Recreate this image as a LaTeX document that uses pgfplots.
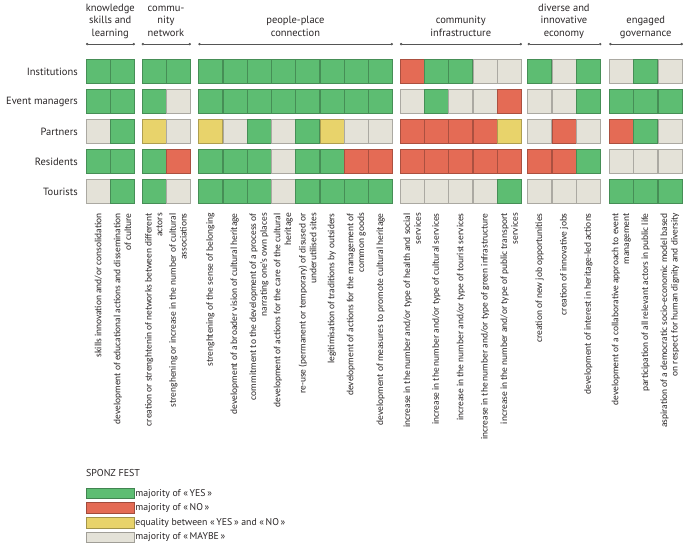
\documentclass[border=0pt]{standalone}
\usepackage{pgfplots}
\pgfplotsset{compat=1.18}
\usepackage{pgfplotstable}
\usepackage{fontspec}
\setmainfont{PT Sans}
\newfontfamily\lblfont{Carlito}
\usetikzlibrary{arrows.meta}
\definecolor{cg}{HTML}{5DBD72}
\definecolor{cr}{HTML}{E46B55}
\definecolor{cy}{HTML}{E8D36B}
\definecolor{cm}{HTML}{E4E2D8}
\definecolor{txt}{HTML}{2A2627}
\definecolor{brk}{HTML}{555555}

% x = column centre (px), y = row centre (px, downwards), c = answer
% G = majority YES, R = majority NO, Y = equality, M = majority MAYBE
\pgfplotstableread{
x y c
98.2 71.5 G
122.5 71.5 G
153.8 71.5 G
178.1 71.5 G
210.5 71.5 G
234.8 71.5 G
259.1 71.5 G
283.4 71.5 G
307.7 71.5 G
332.0 71.5 G
356.3 71.5 G
380.6 71.5 G
412.2 71.5 R
436.5 71.5 G
460.8 71.5 G
485.1 71.5 M
509.4 71.5 M
539.8 71.5 G
564.1 71.5 M
588.4 71.5 G
621.4 71.5 M
645.7 71.5 G
670.0 71.5 M
98.2 101.5 G
122.5 101.5 G
153.8 101.5 G
178.1 101.5 M
210.5 101.5 G
234.8 101.5 G
259.1 101.5 G
283.4 101.5 G
307.7 101.5 G
332.0 101.5 G
356.3 101.5 G
380.6 101.5 G
412.2 101.5 M
436.5 101.5 G
460.8 101.5 M
485.1 101.5 M
509.4 101.5 R
539.8 101.5 M
564.1 101.5 M
588.4 101.5 G
621.4 101.5 G
645.7 101.5 G
670.0 101.5 G
98.2 131.5 M
122.5 131.5 G
153.8 131.5 Y
178.1 131.5 M
210.5 131.5 Y
234.8 131.5 M
259.1 131.5 G
283.4 131.5 M
307.7 131.5 G
332.0 131.5 Y
356.3 131.5 M
380.6 131.5 M
412.2 131.5 R
436.5 131.5 R
460.8 131.5 R
485.1 131.5 R
509.4 131.5 Y
539.8 131.5 M
564.1 131.5 R
588.4 131.5 M
621.4 131.5 R
645.7 131.5 G
670.0 131.5 M
98.2 161.5 G
122.5 161.5 G
153.8 161.5 G
178.1 161.5 R
210.5 161.5 G
234.8 161.5 G
259.1 161.5 G
283.4 161.5 M
307.7 161.5 G
332.0 161.5 G
356.3 161.5 R
380.6 161.5 R
412.2 161.5 R
436.5 161.5 R
460.8 161.5 R
485.1 161.5 R
509.4 161.5 R
539.8 161.5 R
564.1 161.5 R
588.4 161.5 G
621.4 161.5 M
645.7 161.5 M
670.0 161.5 M
98.2 191.5 M
122.5 191.5 G
153.8 191.5 G
178.1 191.5 M
210.5 191.5 G
234.8 191.5 G
259.1 191.5 G
283.4 191.5 M
307.7 191.5 G
332.0 191.5 G
356.3 191.5 G
380.6 191.5 G
412.2 191.5 M
436.5 191.5 M
460.8 191.5 M
485.1 191.5 M
509.4 191.5 G
539.8 191.5 M
564.1 191.5 M
588.4 191.5 M
621.4 191.5 G
645.7 191.5 G
670.0 191.5 G
}\cells

\begin{document}
\begin{tikzpicture}
\begin{axis}[
  x=1pt, y=1pt,
  xmin=83, xmax=685, ymin=-212, ymax=0,
  clip=false,
  axis line style={draw=none},
  major tick length=0pt,
  xtick={98.2,122.5,153.8,178.1,210.5,234.8,259.1,283.4,307.7,332.0,356.3,380.6,412.2,436.5,460.8,485.1,509.4,539.8,564.1,588.4,621.4,645.7,670.0},
  xticklabels={
    {skills innovation and/or consolidation},
    {development of educational actions and dissemination\\of culture},
    {creation or strenghtenin of networks between different\\actors},
    {strenghening or increase in the number of cultural\\associations},
    {strenghtening of the sense of belonging},
    {development of a broader vision of cultural heritage},
    {commitment to the development of a process of\\narrating one’s own places},
    {development of actions for the care of the cultural\\heritage},
    {re-use (permanent or temporary) of disused or\\underutilised sites},
    {legitimisation of traditions by outsiders},
    {development of actions for the management of\\common goods},
    {development of measures to promote cultural heritage},
    {increase in the number and/or type of health and social\\services},
    {increase in the number and/or type of cultural services},
    {increase in the number and/or type of tourist services},
    {increase in the number and/or type of green infrastructure},
    {increase in the number and/or type of public transport\\services},
    {creation of new job opportunities},
    {creation of innovative jobs},
    {development of interest in heritage-led actions},
    {development of a collaborative approach to event\\management},
    {participation of all relevant actors in public life},
    {aspiration of a democratic socio-economic model based\\on respect for human dignity and diversity}},
  xticklabel style={rotate=90, anchor=east, align=right, inner sep=1pt,
    text=txt, font=\lblfont\fontsize{9.5}{10.7}\selectfont},
  ytick={-71.5,-101.5,-131.5,-161.5,-191.5},
  yticklabels={Institutions,Event managers,Partners,Residents,Tourists},
  yticklabel style={anchor=east, inner sep=0pt, xshift=-5pt, text=txt,
    font=\fontsize{10.5}{12.5}\selectfont},
  legend image code/.code={\draw[#1, line width=0.6pt] (0pt,-5.3pt) rectangle (48pt,5.3pt);},
  legend style={at={(axis cs:86,-487.5)}, anchor=north west, draw=none, fill=none,
    inner sep=0pt, row sep=3.4pt, text=txt,
    font=\fontsize{9.8}{11}\selectfont,
    nodes={inner sep=0.6pt, anchor=west},
    /tikz/every even column/.append style={column sep=5pt}},
]
\path (axis cs:0,0) rectangle (axis cs:685,-545);

\addplot[scatter, only marks, forget plot,
  scatter src=explicit symbolic,
  mark size=12pt,
  scatter/classes={
    G={mark=square*, fill=cg, draw=cg!75!black, line width=0.5pt},
    R={mark=square*, fill=cr, draw=cr!75!black, line width=0.5pt},
    Y={mark=square*, fill=cy, draw=cy!75!black, line width=0.5pt},
    M={mark=square*, fill=cm, draw=cm!75!black, line width=0.5pt}}]
  table[x=x, y expr=-\thisrow{y}, meta=c] {\cells};

\addlegendimage{fill=cg, draw=cg!70!black}
\addlegendentry{majority of «\,YES\,»}
\addlegendimage{fill=cr, draw=cr!70!black}
\addlegendentry{majority of «\,NO\,»}
\addlegendimage{fill=cy, draw=cy!70!black}
\addlegendentry{equality between «\,YES\,» and «\,NO\,»}
\addlegendimage{fill=cm, draw=cm!70!black}
\addlegendentry{majority of «\,MAYBE\,»}

% group headers
\begin{scope}[every node/.style={align=center, anchor=south, inner sep=0pt, text=txt,
    font=\fontsize{10.5}{12.5}\selectfont}]
\node at (axis cs:110.3,-40) {knowledge\\skills and\\learning\strut};
\node at (axis cs:166.0,-40) {commu-\\nity\\network\strut};
\node at (axis cs:295.5,-40) {people-place\\connection\strut};
\node at (axis cs:460.8,-40) {community\\infrastructure\strut};
\node at (axis cs:564.0,-40) {diverse and\\innovative\\economy\strut};
\node at (axis cs:645.8,-40) {engaged\\governance\strut};
\end{scope}
\begin{scope}[brk, line width=0.5pt, {Circle[length=2.4pt]}-{Circle[length=2.4pt]}]
\draw (axis cs:86,-44) -- (axis cs:135,-44);
\draw (axis cs:141.7,-44) -- (axis cs:191,-44);
\draw (axis cs:198.3,-44) -- (axis cs:393,-44);
\draw (axis cs:400,-44) -- (axis cs:522,-44);
\draw (axis cs:527.7,-44) -- (axis cs:601.5,-44);
\draw (axis cs:609.3,-44) -- (axis cs:683,-44);
\end{scope}

\node[anchor=west, inner sep=0pt, text=txt, font=\fontsize{10}{12}\selectfont]
  at (axis cs:86,-473) {SPONZ FEST};
\end{axis}
\end{tikzpicture}
\end{document}
